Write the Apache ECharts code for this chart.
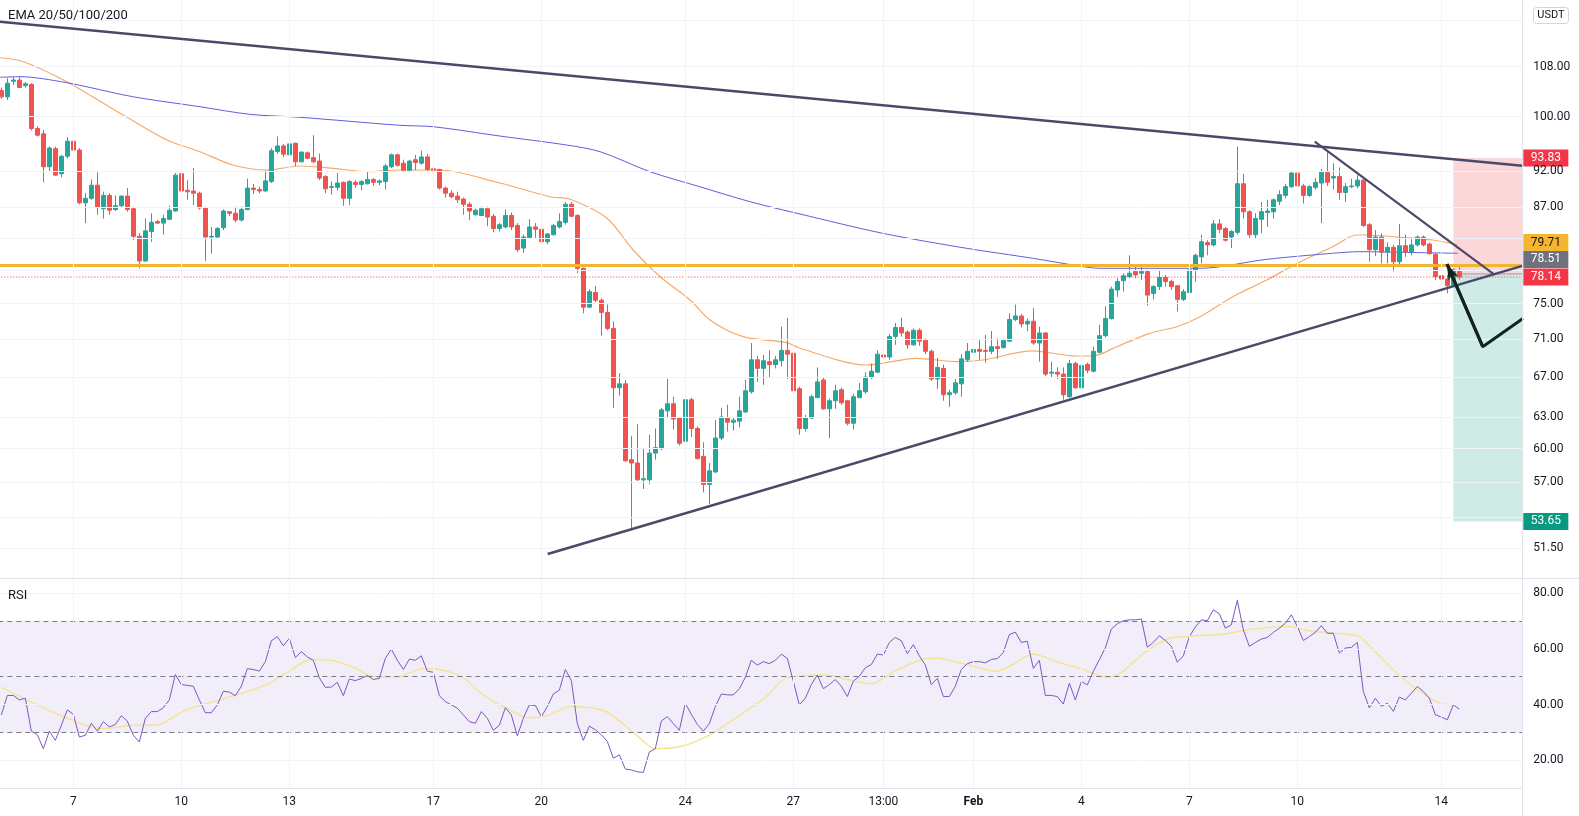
<!DOCTYPE html>
<html>
<head>
<meta charset="utf-8">
<script src="https://cdn.jsdelivr.net/npm/echarts@6.0.0/dist/echarts.min.js"></script>
<style>
html,body{margin:0;padding:0;background:#ffffff;}
#chart{width:1579px;height:816px;}
</style>
</head>
<body>
<div id="chart"></div>
<script>
// ---------------- data ----------------
const candleOpen = [104.1,103.1,105.6,105.8,104.9,105.1,98.2,97.4,92.6,95.2,91.6,94.1,96.3,95.0,87.6,88.2,90.0,86.8,88.6,86.7,87.2,88.5,86.8,83.2,80.1,83.8,85.1,84.9,85.4,86.5,91.6,89.3,89.2,88.9,86.9,83.1,83.1,84.3,86.4,86.2,85.3,86.7,89.6,89.4,89.2,90.5,94.8,95.6,94.3,96.0,93.3,94.6,93.9,93.4,91.2,89.7,89.7,90.4,88.2,90.4,90.1,90.2,90.8,90.4,90.5,92.6,94.3,93.1,92.1,93.6,93.1,94.0,92.3,92.2,89.6,88.9,88.5,88.1,87.4,86.0,85.9,86.8,85.8,84.2,84.4,85.9,84.6,81.7,83.0,84.4,84.1,82.5,83.4,84.4,85.0,87.4,85.9,79.2,74.6,76.3,75.4,74.0,72.2,65.9,66.3,59.0,58.7,57.2,57.2,59.6,60.0,63.6,64.3,62.9,60.7,64.7,61.9,59.3,56.8,57.9,61.0,62.9,62.5,62.6,63.5,65.5,68.8,67.9,68.6,68.3,68.7,69.8,69.5,65.8,61.9,62.9,64.9,66.7,63.8,64.6,65.7,64.6,62.4,64.9,65.5,67.0,67.5,69.3,69.1,71.3,72.3,71.8,70.4,72.0,70.9,69.7,66.8,67.9,65.2,65.4,66.3,68.8,69.6,69.9,69.8,69.7,70.2,70.1,70.8,73.2,73.6,72.7,73.0,70.6,71.7,67.4,67.5,67.3,65.0,68.4,65.9,68.3,67.6,69.6,71.4,73.3,76.6,77.7,78.2,78.8,78.6,78.8,76.2,77.0,78.1,77.6,77.1,75.5,76.3,79.0,80.6,82.4,82.1,84.8,84.2,83.1,83.7,90.2,86.4,83.4,85.4,86.3,86.4,87.8,88.6,89.8,91.7,89.9,88.6,89.7,90.3,91.8,91.0,91.2,89.0,89.8,89.9,90.7,84.7,81.5,83.1,81.2,81.8,80.0,82.0,81.2,82.1,83.1,82.2,80.9,78.3,77.9,77.1,78.8];
const candleClose = [103.1,105.3,105.8,104.6,105.2,98.2,97.2,92.6,95.3,91.4,94.1,96.3,95.0,87.6,88.2,90.0,87.0,88.6,86.6,87.2,88.5,86.7,83.2,80.1,83.9,85.0,84.9,85.5,86.6,91.4,89.2,89.1,88.9,86.9,83.1,83.2,84.2,86.5,86.2,85.3,86.7,89.6,89.4,89.2,90.6,94.9,95.6,94.4,95.9,93.3,94.7,93.8,93.3,91.0,89.5,89.8,90.3,88.2,90.5,90.1,90.5,90.8,90.4,90.6,92.7,94.3,92.8,92.1,93.4,93.2,94.0,92.2,92.1,89.6,88.9,88.4,88.0,87.4,86.5,86.6,86.8,85.7,84.2,84.7,85.9,84.4,81.5,83.1,84.4,84.1,82.5,83.5,84.6,85.1,87.4,85.8,79.2,74.6,76.4,75.4,74.0,72.2,65.9,66.3,58.9,58.7,57.2,57.3,59.6,60.1,63.7,64.3,62.8,60.5,64.7,61.9,59.1,56.8,58.0,61.0,63.0,62.5,62.7,63.6,65.6,68.8,67.9,68.7,68.3,68.8,69.8,69.4,65.6,61.9,62.9,65.0,66.5,63.8,64.6,65.6,64.4,62.4,65.0,65.6,67.0,67.6,69.4,69.1,71.3,72.3,71.7,70.4,72.0,70.8,69.7,66.8,68.0,65.2,65.4,66.4,68.9,69.7,69.9,69.7,69.7,70.2,70.0,70.9,73.2,73.6,72.7,73.0,70.6,71.7,67.3,67.5,67.3,65.2,68.4,65.9,68.2,67.7,69.7,71.4,73.3,76.7,77.6,78.3,78.6,78.4,78.8,76.0,77.0,78.1,77.6,77.0,75.5,76.4,79.0,80.8,82.5,82.1,84.8,84.1,82.7,83.8,90.2,86.4,83.4,85.5,86.4,86.5,88.0,88.7,89.8,91.7,89.9,88.6,89.8,90.4,91.8,90.4,91.2,89.0,89.8,89.9,90.7,84.6,81.5,83.1,81.2,81.8,80.0,82.0,81.2,82.1,83.1,82.1,81.0,78.2,77.9,77.1,79.0,78.14];
const candleLow = [102.8,102.6,105.0,104.5,104.6,97.9,97.0,90.4,92.0,91.3,91.1,93.8,94.9,87.4,84.9,88.0,86.0,85.5,86.0,86.5,87.0,86.4,82.7,79.2,80.0,82.5,84.8,83.4,85.3,86.4,87.7,88.0,87.3,86.7,80.1,81.0,83.0,84.0,85.8,85.0,85.1,86.6,88.8,88.9,89.1,90.3,94.5,94.0,94.0,92.7,93.2,93.7,93.1,90.7,88.9,88.7,89.3,87.2,87.3,89.6,89.3,90.1,89.9,90.0,89.4,92.4,92.6,91.9,91.8,92.1,92.9,92.0,92.0,89.4,88.3,88.2,87.6,86.0,85.3,85.9,85.8,84.5,83.7,83.8,84.2,84.0,81.2,81.1,82.9,83.0,82.4,82.2,83.3,84.2,84.7,85.7,78.6,73.9,74.5,75.2,71.4,72.0,63.9,65.1,58.8,52.9,57.1,56.4,56.8,59.0,59.9,63.0,61.8,60.3,60.2,61.1,59.0,56.1,55.1,57.8,60.8,61.6,61.7,62.0,63.4,65.3,66.5,66.2,67.0,67.9,68.1,66.8,64.4,61.3,61.6,62.8,64.9,63.7,61.0,63.8,64.2,62.2,61.8,64.9,65.3,66.8,67.4,68.6,68.8,70.4,71.3,70.0,70.3,70.3,69.4,66.6,65.8,64.6,64.0,65.2,65.0,68.6,69.3,68.8,68.5,69.4,68.9,70.0,70.7,73.0,72.3,71.9,70.4,68.6,67.1,66.9,66.8,64.7,64.9,65.8,65.4,67.4,67.5,69.5,71.2,73.2,75.8,76.4,78.0,78.0,77.8,74.8,75.5,76.6,77.0,76.6,74.1,75.3,75.9,77.6,79.8,80.8,81.9,83.6,82.5,81.7,83.4,85.5,82.9,82.9,83.6,84.4,85.5,87.3,88.2,89.6,89.6,87.5,88.4,89.4,84.9,89.9,89.4,88.0,87.7,89.6,89.6,84.4,80.0,80.7,79.8,79.8,78.8,79.7,80.6,80.8,81.9,81.9,80.9,77.8,77.4,76.2,77.0,77.8];
const candleHigh = [104.6,106.1,106.3,106.4,105.5,105.3,98.5,98.0,95.5,95.5,94.3,96.9,96.9,95.3,88.9,90.8,91.8,89.1,88.9,88.6,88.6,89.6,87.1,83.6,85.5,86.2,85.3,86.0,87.2,91.7,91.7,90.7,92.4,89.1,87.1,84.4,84.4,86.7,86.5,87.1,87.1,90.9,90.2,89.8,92.1,95.3,97.0,95.9,96.1,96.1,94.8,94.8,97.2,94.5,91.4,90.5,91.7,90.5,90.7,90.7,90.7,91.8,91.0,90.8,93.0,94.5,94.5,93.6,93.6,94.3,94.9,94.4,92.7,92.3,89.8,89.3,89.1,88.3,87.7,86.8,87.1,87.1,86.1,84.9,86.7,86.3,84.9,83.4,85.4,84.9,84.4,83.6,84.8,86.2,87.7,87.7,86.1,79.3,76.7,77.1,75.6,74.9,73.0,67.4,66.7,61.2,62.3,60.0,61.3,61.9,63.9,66.8,65.0,63.0,65.2,64.9,62.1,60.6,58.7,62.7,63.9,64.2,62.9,65.0,66.7,70.6,69.2,69.3,69.8,69.2,72.4,73.4,69.7,66.0,63.2,65.2,68.0,66.9,64.8,66.2,65.9,64.7,65.3,66.4,67.5,68.4,69.8,69.5,71.6,72.8,73.4,72.0,72.2,72.2,71.1,69.9,69.0,68.3,65.7,66.8,69.4,70.6,70.2,71.0,71.5,71.9,71.1,71.1,73.9,74.9,73.8,73.3,74.5,72.4,71.8,68.6,68.0,68.0,68.8,68.6,68.8,68.5,70.2,72.6,74.7,77.0,78.0,78.6,80.8,79.4,79.5,79.0,77.2,78.9,78.4,77.8,77.2,76.7,79.2,81.0,83.4,82.7,85.3,85.4,84.4,84.0,95.5,91.6,86.6,86.2,87.7,88.0,88.2,89.3,90.2,92.0,91.9,90.2,90.0,91.0,92.3,94.8,93.1,92.5,90.3,90.9,91.4,90.9,84.9,84.0,83.6,82.4,82.1,84.8,83.4,83.0,83.3,83.3,82.4,81.1,78.8,78.4,79.2,79.4];
const rsiValues = [36.3,43.3,43.3,41.7,42.3,30.5,29.2,24.2,30.5,27.2,32.6,38.1,36.5,28.4,29.0,33.3,30.5,33.9,32.0,32.9,36.0,34.1,29.0,26.6,35.1,37.5,37.5,38.9,41.7,50.8,47.2,46.9,46.6,41.7,37.1,37.1,39.9,44.8,44.5,43.2,46.6,52.9,52.6,52.0,55.4,62.9,64.4,61.1,63.8,56.9,59.0,57.1,55.9,49.6,46.2,46.3,48.0,43.2,49.2,48.6,49.4,50.4,49.0,49.4,56.6,59.9,55.9,52.6,56.3,55.9,57.5,52.0,51.6,43.2,41.1,39.9,38.7,36.3,33.9,33.3,37.5,35.1,30.8,32.6,38.9,36.3,28.8,35.1,39.9,39.7,35.7,39.3,43.8,45.2,52.6,48.6,33.2,27.2,32.3,31.0,29.2,26.8,20.8,22.0,16.9,16.6,15.9,15.7,23.0,24.2,34.1,35.7,33.2,30.8,40.5,36.5,32.9,30.5,33.2,39.3,43.8,43.5,43.5,45.7,49.8,55.9,54.2,55.4,54.7,55.9,58.1,56.6,48.4,39.9,42.3,47.2,50.6,45.7,47.2,49.0,46.6,42.9,48.4,50.2,53.2,54.4,58.1,57.8,62.3,64.1,62.9,58.3,61.5,57.5,54.2,47.2,49.4,42.9,42.9,46.6,52.6,54.7,55.4,55.4,55.0,56.2,56.5,58.7,65.1,66.0,62.3,62.7,53.0,55.9,43.3,43.3,42.9,40.2,47.7,41.7,48.3,47.1,51.9,56.1,60.3,67.1,69.0,70.1,70.4,70.4,70.7,60.6,62.3,64.7,63.0,60.9,55.2,57.5,64.4,67.8,70.4,70.1,74.0,72.6,67.4,68.6,77.4,66.8,60.9,62.3,63.5,64.1,65.9,67.4,69.2,72.2,68.0,63.0,64.4,65.9,68.3,65.6,65.6,58.5,60.3,60.5,62.3,44.7,38.8,42.3,39.4,40.5,37.6,42.7,41.7,44.1,46.5,44.7,42.3,36.4,35.5,34.6,39.9,38.4];
const rsiMA = [[0,46.2],[5.4,40.5],[11,35.1],[16.7,31.4],[22.3,32.6],[25.7,32.6],[30.7,38.1],[36.4,41.7],[42,45.4],[44.8,47.8],[48.8,53.2],[51.6,56.2],[55,55.9],[58.9,53.2],[61.7,50.2],[65.9,49.9],[70.2,52.9],[73,52.6],[76.9,49.8],[80.3,43.5],[84.2,38.7],[88.1,35.3],[90.9,36.0],[94.9,39.3],[100.5,37.7],[103.9,32.6],[107.2,26.6],[108.9,24.2],[113.4,25.1],[117.9,29.0],[121.9,34.5],[127.5,42.9],[130.9,49.6],[137.6,50.6],[141,49.0],[145,47.5],[148.9,52.0],[153.4,56.2],[155.7,56.6],[161.3,54.2],[165.8,52.0],[168.6,54.4],[172,58.1],[176.4,55.0],[179.7,53.1],[184.2,49.9],[186.4,51.1],[190.8,59.1],[194.7,63.8],[197.5,64.4],[204.2,65.4],[207.5,66.8],[214.7,68.0],[217.5,66.6],[225.3,65.0],[226.4,64.4],[232,52.5],[235.3,46.5],[239.7,40.5],[242,39.9]];
const emaOrange = [[-0.2,109.5],[3.7,108.83],[10.9,105.53],[20.3,100.26],[27.6,96.48],[33.1,94.76],[38.6,92.84],[44.3,92.13],[49.8,92.7],[55.3,92.37],[61,91.89],[66.4,92.13],[73.1,92.13],[83.1,90.3],[91.4,88.42],[94.8,88.07],[100.9,85.57],[105.3,81.46],[109.8,78.18],[114.8,75.43],[118.1,73.14],[123.6,71.29],[130.9,70.64],[133.1,70.03],[144.2,68.25],[152.6,68.96],[159.2,68.6],[163.6,68.78],[171.9,69.74],[179.2,69.2],[181.9,69.2],[185.9,70.2],[191.4,71.66],[195.9,72.39],[199.8,73.51],[204.8,75.63],[206.4,76.24],[210.9,77.79],[216.4,79.97],[221.9,81.87],[225.9,83.36],[227.6,83.36],[233.1,83.07],[238.6,82.72],[242.8,82.09]];
const emaBlue = [[-0.2,106.25],[3.1,106.35],[10.9,105.37],[21.9,103.13],[33.1,101.55],[41.4,100.37],[49.8,99.91],[66.4,98.69],[72,98.47],[83.1,97.07],[94.2,95.74],[99.8,94.76],[108.1,91.89],[116.4,89.79],[124.8,87.74],[133.1,86.1],[146.9,83.58],[160.9,81.67],[171.9,80.43],[180.3,79.4],[183.1,79.2],[199.8,79.2],[210.9,80.3],[221.9,81.05],[226.4,81.25],[233.1,81.17],[242.8,81.05]];
const xTickIndex = [12,30,48,72,90,114,132,147,162,180,198,216,240];
const xTickText = ['7','10','13','17','20','24','27','13:00','Feb','4','7','10','14'];
const priceGridTicks = [116,108,100,92,87,83,79,75,71,67,63,60,57,54,51.5];
const priceLabelTicks = [108,100,92,87,75,71,67,63,60,57,51.5];
const rsiGridTicks = [80,60,40,20];
const rsiBandLines = [70,50,30];
const upperTrend = [[-0.5,115.77],[253.5,92.75]];
const lowerTrend = [[91.06,51.03],[253.5,79.49]];
const shortTrend = [[218.9,96.23],[248.9,78.39]];
const zigzag = [[240.95,79.72],[246.9,70.2],[253.6,73.31]];
const horizontalLevel = 79.55;
const lastPrice = 78.14;
const positionStart = 242;
const positionEntry = 78.51;
const positionStop = 93.83;
const positionTarget = 53.65;
const axisTagPrices = [93.83, 79.71, 78.51, 78.14, 53.65];

// ---------------- chart ----------------
const N = 254;
const cats = Array.from({length: N}, (_, i) => String(i));
const candles = candleOpen.map((o, i) => [o, candleClose[i], candleLow[i], candleHigh[i]]);
const tickMap = new Map(xTickIndex.map((k, j) => [k, xTickText[j]]));
const FONT = 'Roboto, "Liberation Sans", "DejaVu Sans", sans-serif';
const TXT = '#131722';
const GRIDC = '#f0f3fa';
const TREND = '#4a4a68';

const tagStyles = [
  {bg: '#f23645', fg: '#ffffff', dy: 0},
  {bg: '#f5b52f', fg: '#131722', dy: -21.5},
  {bg: '#6f727d', fg: '#ffffff', dy: -14.5},
  {bg: '#f23645', fg: '#ffffff', dy: 0},
  {bg: '#089981', fg: '#ffffff', dy: 0}
];

const chart = echarts.init(document.getElementById('chart'), null, {renderer: 'canvas'});

function lineSeries(name, data, color, width, z, extra) {
  return Object.assign({
    name, type: 'line', xAxisIndex: 2, yAxisIndex: 0, data,
    symbol: 'none', silent: true, z,
    lineStyle: {color, width},
    emphasis: {disabled: true}
  }, extra || {});
}

const option = {
  animation: false,
  backgroundColor: '#ffffff',
  textStyle: {fontFamily: FONT},
  title: [
    {text: 'EMA 20/50/100/200', left: 8, top: 9, padding: 0,
     textStyle: {fontSize: 13, fontWeight: 'normal', color: TXT, fontFamily: FONT}},
    {text: 'RSI', left: 8, top: 589, padding: 0,
     textStyle: {fontSize: 13, fontWeight: 'normal', color: TXT, fontFamily: FONT}}
  ],
  grid: [
    {left: -1.67, right: 56.67, top: 0, height: 578, outerBoundsMode: 'none', containLabel: false},
    {left: -1.67, right: 56.67, top: 578.3, height: 210, outerBoundsMode: 'none', containLabel: false}
  ],
  xAxis: [
    {type: 'category', gridIndex: 0, data: cats, show: false},
    {type: 'category', gridIndex: 1, data: cats,
     axisLine: {show: false}, axisTick: {show: false}, splitLine: {show: false},
     axisLabel: {
       interval: (i) => tickMap.has(i),
       formatter: (v, i) => { const t = tickMap.get(i); return t === 'Feb' ? '{b|Feb}' : t; },
       color: TXT, fontSize: 12, margin: 8, fontFamily: FONT,
       rich: {b: {fontWeight: 'bold', fontSize: 12, color: TXT, fontFamily: FONT}}
     }},
    {type: 'value', gridIndex: 0, min: -0.5, max: N - 0.5, show: false},
    {type: 'value', gridIndex: 1, min: -0.5, max: N - 0.5, show: false}
  ],
  yAxis: [
    {type: 'log', logBase: 10, gridIndex: 0, position: 'right', min: 49.18, max: 119.67,
     axisLine: {show: false}, axisTick: {show: false}, axisLabel: {show: false}, splitLine: {show: false}},
    {type: 'value', gridIndex: 1, position: 'right', min: 10, max: 85.3,
     axisLine: {show: false}, axisTick: {show: false}, axisLabel: {show: false}, splitLine: {show: false}}
  ],
  graphic: [
    {type: 'line', z: 100, shape: {x1: 0, y1: 578.5, x2: 1579, y2: 578.5}, style: {stroke: '#e0e3eb', lineWidth: 1}},
    {type: 'line', z: 100, shape: {x1: 0, y1: 788.5, x2: 1523, y2: 788.5}, style: {stroke: '#e0e3eb', lineWidth: 1}},
    {type: 'line', z: 100, shape: {x1: 1522.5, y1: 0, x2: 1522.5, y2: 816}, style: {stroke: '#e0e3eb', lineWidth: 1}},
    {type: 'rect', z: 100, shape: {x: 1533.5, y: 7.5, width: 35, height: 16, r: 3}, style: {fill: '#ffffff', stroke: '#d1d4dc', lineWidth: 1}},
    {type: 'text', z: 101, x: 1551, y: 15.5, style: {text: 'USDT', fill: TXT, font: '11px ' + FONT, align: 'center', verticalAlign: 'middle'}}
  ],
  series: [
    {
      type: 'line', xAxisIndex: 2, yAxisIndex: 0, data: [], silent: true, z: 0, clip: false,
      markLine: {
        silent: true, symbol: 'none', animation: false, emphasis: {disabled: true},
        lineStyle: {color: GRIDC, width: 1, type: 'solid'},
        label: {show: true, position: 'end', distance: 11, color: TXT, fontSize: 12, fontFamily: FONT,
                formatter: (p) => Number(p.value).toFixed(2)},
        data: priceGridTicks.map(v => ({yAxis: v, label: {show: priceLabelTicks.includes(v)}}))
              .concat(xTickIndex.map(k => ({xAxis: k, label: {show: false}})))
      }
    },
    {
      type: 'line', xAxisIndex: 3, yAxisIndex: 1, data: [], silent: true, z: 0, clip: false,
      markArea: {silent: true, itemStyle: {color: 'rgba(126,87,194,0.1)'}, data: [[{yAxis: 30}, {yAxis: 70}]]},
      markLine: {
        silent: true, symbol: 'none', animation: false, emphasis: {disabled: true},
        lineStyle: {color: GRIDC, width: 1, type: 'solid'},
        label: {show: true, position: 'end', distance: 11, color: TXT, fontSize: 12, fontFamily: FONT,
                formatter: (p) => Number(p.value).toFixed(2)},
        data: rsiGridTicks.map(v => ({yAxis: v}))
              .concat(rsiBandLines.map(v => ({yAxis: v, label: {show: false}, lineStyle: {color: '#787b86', type: [5, 4], width: 1}})))
              .concat(xTickIndex.map(k => ({xAxis: k, label: {show: false}})))
      }
    },
    {
      type: 'line', xAxisIndex: 2, yAxisIndex: 0, data: [], silent: true, z: 1,
      markArea: {silent: true, data: [
        [{coord: [positionStart, positionStop], itemStyle: {color: 'rgba(242,54,69,0.2)'}}, {coord: [N - 0.5, positionEntry]}],
        [{coord: [positionStart, positionEntry], itemStyle: {color: 'rgba(8,153,129,0.2)'}}, {coord: [N - 0.5, positionTarget]}]
      ]}
    },
    lineSeries('entry', [[positionStart, positionEntry], [N - 0.5, positionEntry]], '#9598a1', 1, 2),
    lineSeries('ema50', emaOrange, '#f6aa6a', 1.2, 2, {smooth: 0.3}),
    lineSeries('ema200', emaBlue, '#5f5fdc', 1, 2, {smooth: 0.3}),
    {
      name: 'price', type: 'candlestick', xAxisIndex: 0, yAxisIndex: 0, data: candles, z: 3,
      barWidth: 4, silent: true,
      itemStyle: {color: '#26a69a', color0: '#ef5350', borderColor: '#26a69a', borderColor0: '#ef5350', borderWidth: 1}
    },
    lineSeries('level', [[-0.5, horizontalLevel], [N - 0.5, horizontalLevel]], '#f2b531', 3, 4),
    lineSeries('last', [[-0.5, lastPrice], [N - 0.5, lastPrice]], '#f23645', 1, 4, {lineStyle: {color: '#f23645', width: 1, type: [1, 2]}}),
    lineSeries('upperTrend', upperTrend, TREND, 2.5, 5),
    lineSeries('lowerTrend', lowerTrend, TREND, 2.5, 5),
    lineSeries('shortTrend', shortTrend, TREND, 2.2, 5),
    lineSeries('zigzag', zigzag, '#13241f', 3, 6, {
      markLine: {
        silent: true, animation: false, symbol: ['arrow', 'none'], symbolSize: [8, 16],
        lineStyle: {color: '#13241f', width: 3, type: 'solid'}, label: {show: false}, emphasis: {disabled: true},
        data: [[{coord: zigzag[0]}, {coord: zigzag[1]}]]
      }
    }),
    {
      name: 'rsiMA', type: 'line', xAxisIndex: 3, yAxisIndex: 1, data: rsiMA, smooth: 0.3,
      symbol: 'none', silent: true, z: 2, lineStyle: {color: '#f3e496', width: 1.5}
    },
    {
      name: 'rsi', type: 'line', xAxisIndex: 1, yAxisIndex: 1, data: rsiValues,
      symbol: 'none', silent: true, z: 3, lineStyle: {color: '#7e57c2', width: 1}
    },
    {
      type: 'line', xAxisIndex: 2, yAxisIndex: 0, data: [], silent: true, z: 20, clip: false,
      markPoint: {
        silent: true, animation: false,
        data: axisTagPrices.map((p, j) => ({
          coord: [253, p], symbol: 'rect', symbolSize: [45, 17], symbolOffset: [26.5, tagStyles[j].dy],
          itemStyle: {color: tagStyles[j].bg},
          label: {show: true, position: 'inside', formatter: p.toFixed(2), color: tagStyles[j].fg, fontSize: 12, fontFamily: FONT}
        }))
      }
    }
  ]
};
chart.setOption(option);
</script>
</body>
</html>
